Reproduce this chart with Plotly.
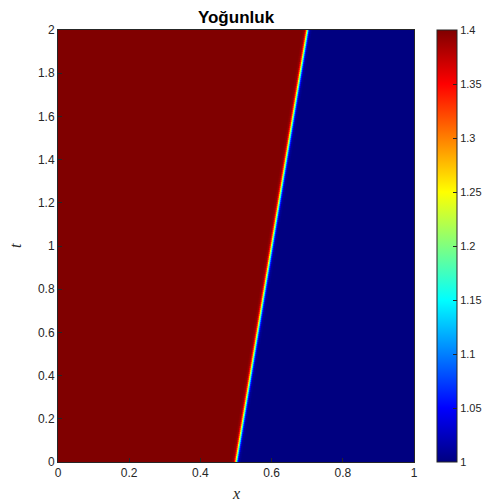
import numpy as np
import plotly.graph_objects as go

# Shock position (t -> x of the discontinuity)
shock_t = [0.0, 2.0]
shock_x = [0.5, 0.7]
# Density profile across the shock (offset from shock position -> density)
profile_dx = [-0.014, -0.008, -0.004, 0.0, 0.004, 0.008, 0.014]
profile_rho = [1.4, 1.39, 1.33, 1.2, 1.07, 1.01, 1.0]

x_ticks = [0, 0.2, 0.4, 0.6, 0.8, 1]
x_ticklabels = ["0", "0.2", "0.4", "0.6", "0.8", "1"]
t_ticks = [0, 0.2, 0.4, 0.6, 0.8, 1, 1.2, 1.4, 1.6, 1.8, 2]
t_ticklabels = ["0", "0.2", "0.4", "0.6", "0.8", "1", "1.2", "1.4", "1.6", "1.8", "2"]
cb_ticks = [1, 1.05, 1.1, 1.15, 1.2, 1.25, 1.3, 1.35, 1.4]
cb_ticklabels = ["1", "1.05", "1.1", "1.15", "1.2", "1.25", "1.3", "1.35", "1.4"]

nx, nt = 712, 216
xg = (np.arange(nx) + 0.5) / nx
tg = (np.arange(nt) + 0.5) / nt * 2.0
z = np.empty((nt, nx))
for i, tv in enumerate(tg):
    s = np.interp(tv, shock_t, shock_x)
    z[i] = np.interp(xg - s, profile_dx, profile_rho)

jet = [
    [0.0, "rgb(0,0,128)"],
    [0.125, "rgb(0,0,255)"],
    [0.375, "rgb(0,255,255)"],
    [0.625, "rgb(255,255,0)"],
    [0.875, "rgb(255,0,0)"],
    [1.0, "rgb(128,0,0)"],
]

tick_font = dict(family="Liberation Sans, Arial, sans-serif", size=12, color="#262626")
cb_font = dict(family="Liberation Sans, Arial, sans-serif", size=11, color="#262626")

W, H = 485, 502
L, T, PW, PH = 58, 30, 356, 432

fig = go.Figure(
    go.Heatmap(
        x=xg, y=tg, z=z, colorscale=jet, zmin=1.0, zmax=1.4,
        colorbar=dict(
            x=(437 - L) / PW, xanchor="left", xref="paper",
            y=0.5, yanchor="middle", len=1.0, lenmode="fraction",
            thickness=20, thicknessmode="pixels",
            outlinewidth=1, outlinecolor="#262626",
            tickvals=cb_ticks, ticktext=cb_ticklabels,
            ticks="inside", ticklen=4, tickcolor="#262626",
            tickfont=cb_font, xpad=0, ypad=0,
        ),
        hoverinfo="skip",
    )
)

fig.update_layout(
    width=W, height=H,
    margin=dict(l=L, r=W - L - PW, t=T, b=H - T - PH, autoexpand=False),
    paper_bgcolor="white", plot_bgcolor="white",
    title=dict(text="<b>Yoğunluk</b>", x=236 / W, xanchor="center",
               y=1 - 17 / H, yanchor="middle",
               font=dict(family="Liberation Sans, Arial, sans-serif", size=17, color="black")),
    xaxis=dict(range=[0, 1], tickvals=x_ticks, ticktext=x_ticklabels,
               ticks="inside", ticklen=4, tickcolor="#262626",
               showline=True, linecolor="#262626", linewidth=1, mirror=True,
               showgrid=False, zeroline=False, tickfont=tick_font, automargin=False),
    yaxis=dict(range=[0, 2], tickvals=t_ticks, ticktext=t_ticklabels,
               ticks="inside", ticklen=4, tickcolor="#262626",
               showline=True, linecolor="#262626", linewidth=1, mirror=True,
               showgrid=False, zeroline=False, tickfont=tick_font, automargin=False),
    annotations=[
        dict(text="<i>x</i>", xref="paper", yref="paper", x=0.5, y=-31 / PH,
             yanchor="middle", showarrow=False,
             font=dict(family="Liberation Serif, serif", size=16, color="#262626"),
             ),
        dict(text="<i>t</i>", xref="paper", yref="paper", x=-43 / PW, y=0.5,
             xanchor="center", yanchor="middle", textangle=-90, showarrow=False,
             font=dict(family="Liberation Serif, serif", size=16, color="#262626"),
             ),
    ],
)

fig.write_html(
    "out.html",
    config={"displayModeBar": False},
    post_script="document.body.style.margin='0';document.body.style.overflow='hidden';",
)
